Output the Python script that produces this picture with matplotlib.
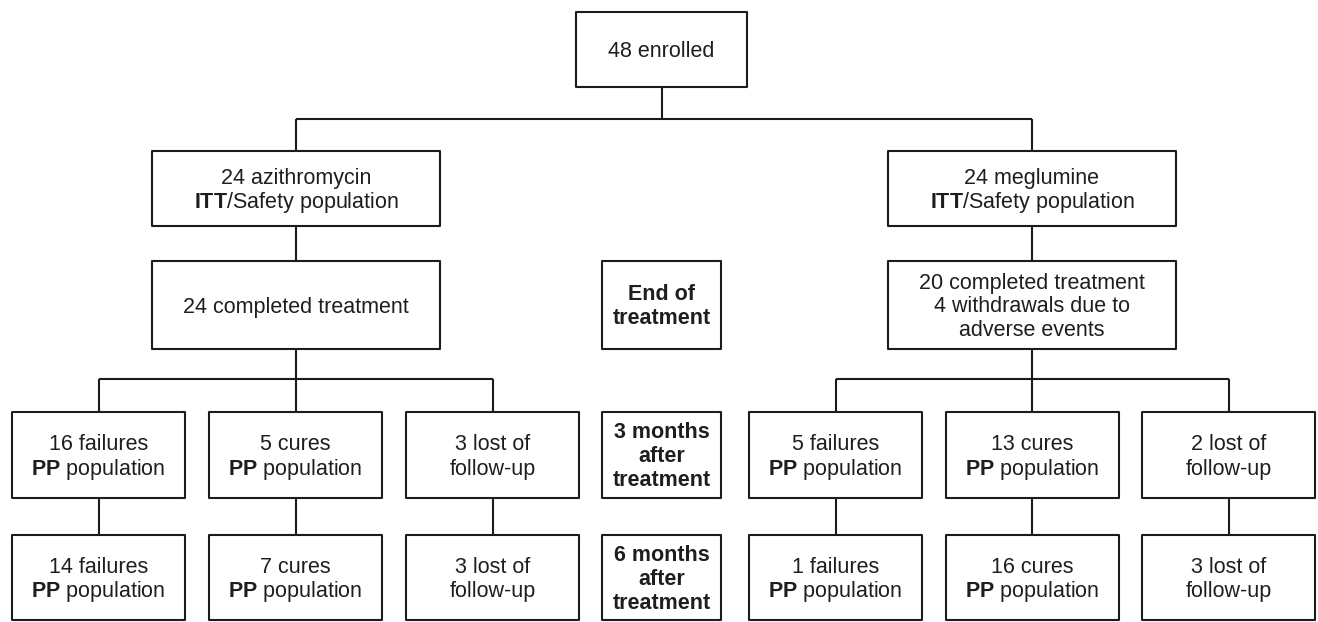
import matplotlib.pyplot as plt
from matplotlib.patches import Rectangle

plt.rcParams['font.family'] = ['Liberation Sans', 'DejaVu Sans']
plt.rcParams['mathtext.fontset'] = 'custom'
plt.rcParams['mathtext.rm'] = 'Liberation Sans'
plt.rcParams['mathtext.bf'] = 'Liberation Sans:bold'

# texts of the flowchart
top_label = '48 enrolled'
arm_labels = ['24 azithromycin\n$\\mathbf{ITT}$/Safety population',
              '24 meglumine\n$\\mathbf{ITT}$/Safety population']
end_labels = ['24 completed treatment',
              '20 completed treatment\n4 withdrawals due to\nadverse events']
month3_labels = ['16 failures\n$\\mathbf{PP}$ population',
                 '5 cures\n$\\mathbf{PP}$ population',
                 '3 lost of\nfollow-up',
                 '5 failures\n$\\mathbf{PP}$ population',
                 '13 cures\n$\\mathbf{PP}$ population',
                 '2 lost of\nfollow-up']
month6_labels = ['14 failures\n$\\mathbf{PP}$ population',
                 '7 cures\n$\\mathbf{PP}$ population',
                 '3 lost of\nfollow-up',
                 '1 failures\n$\\mathbf{PP}$ population',
                 '16 cures\n$\\mathbf{PP}$ population',
                 '3 lost of\nfollow-up']
time_labels = ['End of\ntreatment', '3 months\nafter\ntreatment',
               '6 months\nafter\ntreatment']

# layout (pixels)
W, H = 1318, 622
arm_x = [296, 1032]
small_x = [98.5, 295.5, 492.5, 835.5, 1032, 1228.5]
mid_x = 661.5
ink = '#1c1c1c'
lw = 1.5
fs = 15.5
step = 24

fig = plt.figure(figsize=(W / 100, H / 100), dpi=100)
ax = fig.add_axes([0, 0, 1, 1])
ax.set_xlim(0, W)
ax.set_ylim(H, 0)
ax.axis('off')


def box(cx, y0, y1, w, text, bold=False):
    ax.add_patch(Rectangle((cx - w / 2, y0), w, y1 - y0, fill=False,
                           edgecolor=ink, linewidth=lw, joinstyle='round'))
    rows = text.split('\n')
    cy = (y0 + y1) / 2
    for i, row in enumerate(rows):
        ax.text(cx, cy + (i - (len(rows) - 1) / 2) * step + 7.5, row,
                ha='center', va='baseline', fontsize=fs, color='#1e1e1e',
                fontweight='bold' if bold else 'normal')


def line(xs, ys):
    ax.plot(xs, ys, color=ink, linewidth=lw, solid_capstyle='butt')


# top
box(mid_x, 12, 87, 171, top_label)
line([mid_x, mid_x], [87, 119])
line([arm_x[0], arm_x[1]], [119, 119])

for i, cx in enumerate(arm_x):
    line([cx, cx], [119, 151])
    box(cx, 151, 226, 288, arm_labels[i])
    line([cx, cx], [226, 261])
    box(cx, 261, 349, 288, end_labels[i])
    line([cx, cx], [349, 379])
    grp = small_x[i * 3:i * 3 + 3]
    line([grp[0], grp[-1]], [379, 379])

for j, cx in enumerate(small_x):
    line([cx, cx], [379, 412])
    box(cx, 412, 498, 173, month3_labels[j])
    line([cx, cx], [498, 535])
    box(cx, 535, 620, 173, month6_labels[j])

box(mid_x, 261, 349, 119, time_labels[0], bold=True)
box(mid_x, 412, 498, 119, time_labels[1], bold=True)
box(mid_x, 535, 620, 119, time_labels[2], bold=True)

fig.savefig('out.png', dpi=100, facecolor='white')
